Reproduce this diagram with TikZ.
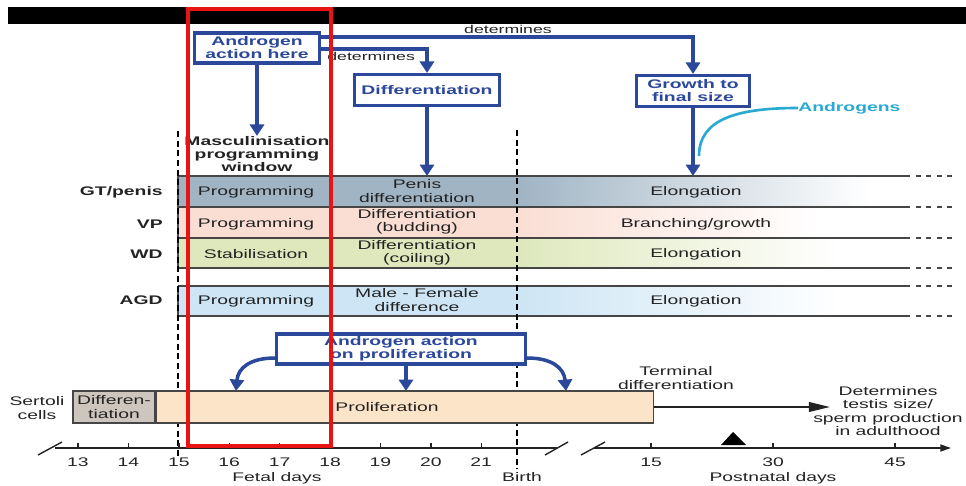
\documentclass[tikz,border=0pt]{standalone}
\usepackage{fontspec}
\setmainfont[FakeStretch=1.55]{Liberation Sans}
\usetikzlibrary{arrows.meta,calc}

\definecolor{abl}{RGB}{43,72,155}
\definecolor{acyan}{RGB}{40,170,210}
\definecolor{txt}{RGB}{35,35,35}
\definecolor{gtc}{RGB}{160,180,196}
\definecolor{vpc}{RGB}{250,222,212}
\definecolor{wdc}{RGB}{222,232,188}
\definecolor{agdc}{RGB}{205,229,244}
\definecolor{sdc}{RGB}{205,198,190}
\definecolor{spc}{RGB}{252,228,200}
\definecolor{rline}{RGB}{70,70,70}
\definecolor{redbox}{RGB}{232,20,20}

\tikzset{
  lbl/.style={font=\fontsize{7.1}{7.5}\selectfont, text=txt, align=center, inner sep=0pt},
  small/.style={lbl, font=\fontsize{6.5}{7}\selectfont},
  blbl/.style={lbl, font=\fontsize{7.1}{7.5}\selectfont\bfseries},
  bbox/.style={draw=abl, line width=1.8pt, fill=white, text=abl, align=center, inner sep=0pt,
    font=\fontsize{7.1}{7.4}\selectfont\bfseries},
  barr/.style={draw=abl, line width=2pt, -{Triangle[width=8pt,length=6.5pt]}},
  rowline/.style={draw=rline, line width=1pt},
  vdash/.style={draw=black, line width=1.3pt, dash pattern=on 3.5pt off 2pt},
  sbar/.style={draw=rline, line width=0.8pt, inner sep=0pt, minimum height=0.64cm},
  axis/.style={draw=txt, line width=0.8pt},
}

\begin{document}
\begin{tikzpicture}[x=0.02cm,y=-0.02cm]
\useasboundingbox (0,0) rectangle (966,486);
\fill[black] (8,7) rectangle (966,24);

% rows
\fill[gtc] (178,176) rectangle (517,207);
\shade[left color=gtc,right color=white] (517,176) rectangle (870,207);
\fill[vpc] (178,207) rectangle (517,238);
\shade[left color=vpc,right color=white] (517,207) rectangle (820,238);
\fill[wdc] (178,238) rectangle (517,268);
\shade[left color=wdc,right color=white] (517,238) rectangle (840,268);
\fill[agdc] (178,286) rectangle (517,316);
\shade[left color=agdc,right color=white] (517,286) rectangle (840,316);
\foreach \y in {176,207,238,268,286,316} {
  \draw[rowline] (178,\y) -- (905,\y);
  \draw[rowline,dashed] (905,\y) -- (955,\y);
}
\draw[rowline] (178,176) -- (178,268);
\draw[rowline] (178,286) -- (178,316);

\draw[vdash] (178,131) -- (178,457);
\draw[vdash] (517,130) -- (517,469);

\node[blbl, anchor=east] (lgt) at (163,192) {GT/penis};
\node[blbl, anchor=east] (lvp) at (163,224) {VP};
\node[blbl, anchor=east] (lwd) at (163,254) {WD};
\node[blbl, anchor=east] (lagd) at (163,300) {AGD};

\node[lbl] (gt1) at (256,192) {Programming};
\node[lbl] (gt2) at (417,191) {Penis\\differentiation};
\node[lbl] (gt3) at (696,192) {Elongation};
\node[lbl] (vp1) at (256,224) {Programming};
\node[lbl] (vp2) at (417,222) {Differentiation\\(budding)};
\node[lbl] (vp3) at (696,224) {Branching/growth};
\node[lbl] (wd1) at (256,254) {Stabilisation};
\node[lbl] (wd2) at (417,253) {Differentiation\\(coiling)};
\node[lbl] (wd3) at (696,254) {Elongation};
\node[lbl] (agd1) at (256,301) {Programming};
\node[lbl] (agd2) at (417,300) {Male - Female\\difference};
\node[lbl] (agd3) at (696,301) {Elongation};

% top boxes
\node[bbox, minimum width=2.5cm, minimum height=0.6cm] (ahere) at (257,48) {Androgen\\action here};
\node[bbox, minimum width=2.9cm, minimum height=0.62cm] (diff) at (427,90) {Differentiation};
\node[bbox, minimum width=2.26cm, minimum height=0.62cm] (grow) at (693,91) {Growth to\\final size};
\node[blbl] (masc) at (257,154) {Masculinisation\\programming\\window};

\coordinate (gttop) at (0,176);
\draw[barr] (ahere.south) -- (masc.north);
\draw[barr] (ahere.east |- 0,37) -| (grow.north);
\draw[barr] (ahere.east |- 0,49) -| (diff.north);
\draw[barr] (diff.south) -- (diff.south |- gttop);
\draw[barr] (grow.south) -- (grow.south |- gttop);
\node[small] (det1) at (508,29) {determines};
\node[small, anchor=west] (det2) at (327,56) {determines};

\node[blbl, text=acyan, anchor=west] (andro) at (798,108) {Androgens};
\draw[acyan, line width=1.5pt] (andro.west) .. controls (735,108) and (699,120) .. (699,156);

% sertoli cells
\node[bbox, minimum width=4.98cm, minimum height=0.6cm] (prol) at (401,349) {Androgen action\\on proliferation};
\coordinate (sertop) at (0,391);
\coordinate (tl) at (236,391);
\coordinate (tr) at (566,391);
\draw[barr] (prol.west |- 0,358) .. controls (250,358) and (238,368) .. (tl);
\draw[barr] ($(prol.south)+(5,0)$) -- ($(prol.south |- sertop)+(5,0)$);
\draw[barr] (prol.east |- 0,358) .. controls (552,358) and (564,368) .. (tr);

\node[sbar, fill=sdc, minimum width=1.64cm] (sdiff) at (114,407) {};
\node[sbar, fill=spc, minimum width=9.94cm, anchor=west] (sprol) at (sdiff.east) {};
\node[lbl] (sdtext) at (sdiff) {Differen-\\tiation};
\node[lbl] (sptext) at (387,407) {Proliferation};
\node[lbl] (sert) at (37,408) {Sertoli\\cells};
\node[lbl] (term) at (676,378) {Terminal\\differentiation};
\node[lbl] (result) at (888,411) {Determines\\testis size/\\sperm production\\in adulthood};
\coordinate (tend) at (830,407);
\draw[line width=1pt, draw=txt, -{Triangle[length=12pt,width=5.5pt]}] (sprol.east) -- (tend);

% axis
\draw[axis] (55,448) -- (557,448);
\draw[axis, -{Triangle[length=6pt,width=4pt]}] (594,448) -- (951,448);
\draw[axis] (38,455) -- (62,442);
\draw[axis] (545,455) -- (568,442);
\draw[axis] (581,455) -- (605,442);
\foreach \d in {13,...,21} {
  \draw[axis] ({78+(\d-13)*50.4},448) -- ++(0,-5);
  \node[lbl] (f\d) at ({78+(\d-13)*50.4},462) {\d};
}
\foreach \d/\x in {15/651,30/773,45/895} {
  \draw[axis] (\x,448) -- ++(0,-5);
  \node[lbl] (p\d) at (\x,462) {\d};
}
\node[lbl] (fetal) at (277,478) {Fetal days};
\node[lbl] (birth) at (522,477) {Birth};
\node[lbl] (post) at (773,478) {Postnatal days};
\fill[black] (721,445) -- (746,445) -- (733,432) -- cycle;

\draw[redbox, line width=2.7pt] (188,9) rectangle (331,446);
\end{tikzpicture}
\end{document}
